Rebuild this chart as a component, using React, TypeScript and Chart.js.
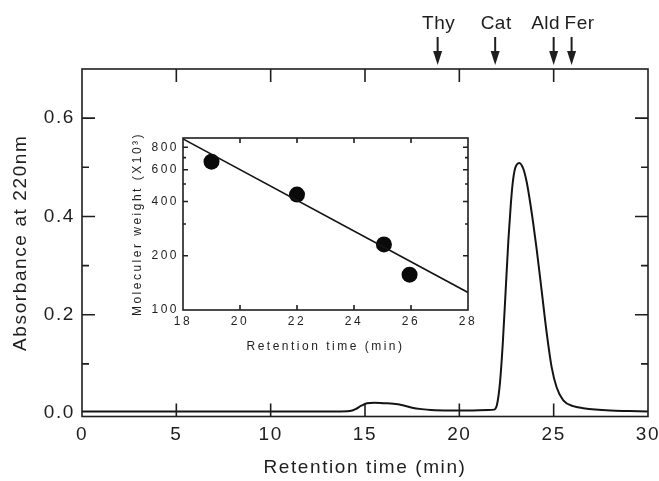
import React, { useEffect, useRef } from "react";
import { Chart, registerables } from "chart.js";

Chart.register(...registerables);

// ---------- data ----------
const times = [0, 2, 4, 6, 8, 10, 12, 13.5, 14.2, 14.5, 14.8, 15.1, 15.5, 16.0, 16.5, 17.0, 17.5, 18.0, 18.5, 19.5, 20.5, 21.5, 21.85, 22.0, 22.15, 22.3, 22.45, 22.6, 22.72, 22.82, 22.95, 23.18, 23.39, 23.57, 23.74, 23.92, 24.1, 24.36, 24.63, 24.89, 25.16, 25.51, 26.04, 26.57, 27.2, 28.0, 29.0, 30.0];
const absorbance = [0.003, 0.003, 0.003, 0.003, 0.003, 0.003, 0.003, 0.003, 0.004, 0.008, 0.015, 0.020, 0.021, 0.020, 0.019, 0.016, 0.011, 0.008, 0.006, 0.005, 0.005, 0.006, 0.007, 0.018, 0.06, 0.14, 0.245, 0.352, 0.42, 0.465, 0.497, 0.509, 0.497, 0.47, 0.432, 0.385, 0.333, 0.25, 0.163, 0.094, 0.052, 0.026, 0.014, 0.010, 0.007, 0.005, 0.004, 0.003];

const markerNames = ["Thy", "Cat", "Ald", "Fer"];
const markerTimes = [18.85, 21.9, 25.0, 25.95];

const mainXTicks = [0, 5, 10, 15, 20, 25, 30];
const mainYTicks = [0, 0.1, 0.2, 0.3, 0.4, 0.5, 0.6];
const mainYLabels = [0, 0.2, 0.4, 0.6];

const insetTimes = [19.0, 22.0, 25.05, 25.95];
const insetMW = [665, 437, 231, 157];
const fitTimes = [18, 28];
const fitMW = [890, 125];
const insetXTicks = [18, 20, 22, 24, 26, 28];
const insetYTicks = [100, 200, 300, 400, 500, 600, 700, 800, 900];
const insetYLabels = [100, 200, 400, 600, 800];

// ---------- helpers ----------
const FONT = "'Liberation Sans', Arial, Helvetica, sans-serif";
const INK = "#1e1e1e";

function spacingPlugin(px: number) {
  const set = (c: any) => {
    c.ctx.letterSpacing = px + "px";
  };
  return {
    id: "letterSpacing",
    beforeUpdate: set,
    beforeLayout: set,
    beforeDraw: set,
  };
}

function framePlugin(cfg: {
  xTicks: number[];
  yTicks: number[];
  yMajor: number[];
  xLen: number;
  yMajorLen: number;
  yMinorLen: number;
  lineWidth: number;
  white?: boolean;
}) {
  return {
    id: "frame",
    beforeDatasetsDraw(chart: any) {
      if (!cfg.white) return;
      const { ctx, chartArea: a } = chart;
      ctx.save();
      ctx.fillStyle = "#ffffff";
      ctx.fillRect(a.left, a.top, a.right - a.left, a.bottom - a.top);
      ctx.restore();
    },
    afterDraw(chart: any) {
      const { ctx, chartArea: a, scales } = chart;
      const xs = scales.x;
      const ys = scales.y;
      ctx.save();
      ctx.strokeStyle = INK;
      ctx.lineWidth = cfg.lineWidth;
      ctx.strokeRect(a.left, a.top, a.right - a.left, a.bottom - a.top);
      ctx.beginPath();
      cfg.xTicks.forEach((v) => {
        const px = xs.getPixelForValue(v);
        ctx.moveTo(px, a.bottom);
        ctx.lineTo(px, a.bottom - cfg.xLen);
        ctx.moveTo(px, a.top);
        ctx.lineTo(px, a.top + cfg.xLen);
      });
      cfg.yTicks.forEach((v) => {
        const py = ys.getPixelForValue(v);
        const len = cfg.yMajor.includes(v) ? cfg.yMajorLen : cfg.yMinorLen;
        ctx.moveTo(a.left, py);
        ctx.lineTo(a.left + len, py);
        ctx.moveTo(a.right, py);
        ctx.lineTo(a.right - len, py);
      });
      ctx.stroke();
      ctx.restore();
    },
  };
}

const labelShift = [1, 1, -8, 8];

const arrowPlugin = {
  id: "arrows",
  afterDraw(chart: any) {
    const { ctx, scales } = chart;
    const xs = scales.x;
    ctx.save();
    ctx.fillStyle = INK;
    ctx.strokeStyle = INK;
    ctx.lineWidth = 2;
    ctx.font = `19px ${FONT}`;
    ctx.letterSpacing = "0.5px";
    ctx.textAlign = "center";
    ctx.textBaseline = "middle";
    markerTimes.forEach((t, i) => {
      const px = xs.getPixelForValue(t);
      ctx.beginPath();
      ctx.moveTo(px, 37);
      ctx.lineTo(px, 54);
      ctx.stroke();
      ctx.beginPath();
      ctx.moveTo(px - 4.5, 51);
      ctx.lineTo(px + 4.5, 51);
      ctx.lineTo(px, 65);
      ctx.closePath();
      ctx.fill();
      ctx.fillText(markerNames[i], px + labelShift[i], 24);
    });
    ctx.restore();
  },
};

const noPadX = (s: any, h: number) => {
  s.height = h;
  s.paddingLeft = 0;
  s.paddingRight = 0;
};
const noPadY = (s: any, w: number) => {
  s.width = w;
  s.paddingTop = 0;
  s.paddingBottom = 0;
};

export default function App() {
  const mainRef = useRef<HTMLCanvasElement>(null);
  const insetRef = useRef<HTMLCanvasElement>(null);

  useEffect(() => {
    document.body.style.margin = "0";
    const main = new Chart(mainRef.current!, {
      type: "line",
      data: {
        datasets: [
          {
            data: times.map((t, i) => ({ x: t, y: absorbance[i] })),
            borderColor: "#141414",
            borderWidth: 2,
            pointRadius: 0,
            cubicInterpolationMode: "monotone",
            fill: false,
          },
        ],
      },
      options: {
        animation: false,
        responsive: false,
        events: [],
        layout: { padding: { top: 69, right: 11, left: 0, bottom: 0 } },
        plugins: { legend: { display: false }, tooltip: { enabled: false } },
        scales: {
          x: {
            type: "linear",
            min: 0,
            max: 30,
            grid: { display: false, drawTicks: false },
            border: { display: false },
            afterBuildTicks: (s: any) => {
              s.ticks = mainXTicks.map((v) => ({ value: v }));
            },
            afterFit: (s: any) => noPadX(s, 64.5),
            ticks: {
              font: { family: FONT, size: 19 },
              color: INK,
              padding: 7,
              maxRotation: 0,
              autoSkip: false,
              callback: (v: any) => String(v),
            },
            title: {
              display: true,
              text: "Retention time (min)",
              font: { family: FONT, size: 19 },
              color: INK,
              padding: { top: 0, bottom: 2 },
            },
          },
          y: {
            type: "linear",
            min: -0.007,
            max: 0.7,
            grid: { display: false, drawTicks: false },
            border: { display: false },
            afterBuildTicks: (s: any) => {
              s.ticks = mainYLabels.map((v) => ({ value: v }));
            },
            afterFit: (s: any) => noPadY(s, 82),
            ticks: {
              font: { family: FONT, size: 19 },
              color: INK,
              padding: 7,
              autoSkip: false,
              callback: (v: any) => Number(v).toFixed(1),
            },
            title: {
              display: true,
              text: "Absorbance at 220nm",
              font: { family: FONT, size: 19 },
              color: INK,
              padding: { top: 9, bottom: 0 },
            },
          },
        },
      } as any,
      plugins: [
        spacingPlugin(1.6),
        framePlugin({
          xTicks: mainXTicks.slice(1, -1),
          yTicks: mainYTicks.slice(1),
          yMajor: mainYLabels,
          xLen: 13,
          yMajorLen: 13,
          yMinorLen: 7,
          lineWidth: 1.6,
        }),
        arrowPlugin,
      ],
    });

    const inset = new Chart(insetRef.current!, {
      type: "scatter",
      data: {
        datasets: [
          {
            data: fitTimes.map((t, i) => ({ x: t, y: fitMW[i] })),
            showLine: true,
            borderColor: "#141414",
            borderWidth: 1.6,
            pointRadius: 0,
            fill: false,
          },
          {
            data: insetTimes.map((t, i) => ({ x: t, y: insetMW[i] })),
            showLine: false,
            pointRadius: 8,
            pointBackgroundColor: "#0a0a0a",
            pointBorderColor: "#0a0a0a",
            pointBorderWidth: 0,
          },
        ],
      },
      options: {
        animation: false,
        responsive: false,
        events: [],
        layout: { padding: { top: 7, right: 12, left: 0, bottom: 0 } },
        plugins: { legend: { display: false }, tooltip: { enabled: false } },
        scales: {
          x: {
            type: "linear",
            min: 18,
            max: 28,
            grid: { display: false, drawTicks: false },
            border: { display: false },
            afterBuildTicks: (s: any) => {
              s.ticks = insetXTicks.map((v) => ({ value: v }));
            },
            afterFit: (s: any) => noPadX(s, 50),
            ticks: {
              font: { family: FONT, size: 12 },
              color: INK,
              padding: 4,
              maxRotation: 0,
              autoSkip: false,
              callback: (v: any) => String(v),
            },
            title: {
              display: true,
              text: "Retention time (min)",
              font: { family: FONT, size: 12 },
              color: INK,
              padding: { top: 0, bottom: 6 },
            },
          },
          y: {
            type: "logarithmic",
            min: 100,
            max: 900,
            grid: { display: false, drawTicks: false },
            border: { display: false },
            afterBuildTicks: (s: any) => {
              s.ticks = insetYLabels.map((v) => ({ value: v }));
            },
            afterFit: (s: any) => noPadY(s, 63),
            ticks: {
              font: { family: FONT, size: 12 },
              color: INK,
              padding: 4,
              autoSkip: false,
              callback: (v: any) => String(v),
            },
            title: {
              display: true,
              text: "Moleculer weight (X10³)",
              font: { family: FONT, size: 12 },
              color: INK,
              padding: { top: 10, bottom: 0 },
            },
          },
        },
      } as any,
      plugins: [
        spacingPlugin(2.5),
        framePlugin({
          xTicks: insetXTicks.slice(1, -1),
          yTicks: insetYTicks.slice(1, -1),
          yMajor: insetYLabels,
          xLen: 5,
          yMajorLen: 5,
          yMinorLen: 3,
          lineWidth: 1.6,
          white: true,
        }),
      ],
    });

    return () => {
      main.destroy();
      inset.destroy();
    };
  }, []);

  return (
    <div style={{ position: "absolute", left: 0, top: 0, width: 659, height: 481, background: "#ffffff" }}>
      <canvas ref={mainRef} width={659} height={481} style={{ position: "absolute", left: 0, top: 0 }} />
      <canvas ref={insetRef} width={360} height={230} style={{ position: "absolute", left: 120, top: 130 }} />
    </div>
  );
}
